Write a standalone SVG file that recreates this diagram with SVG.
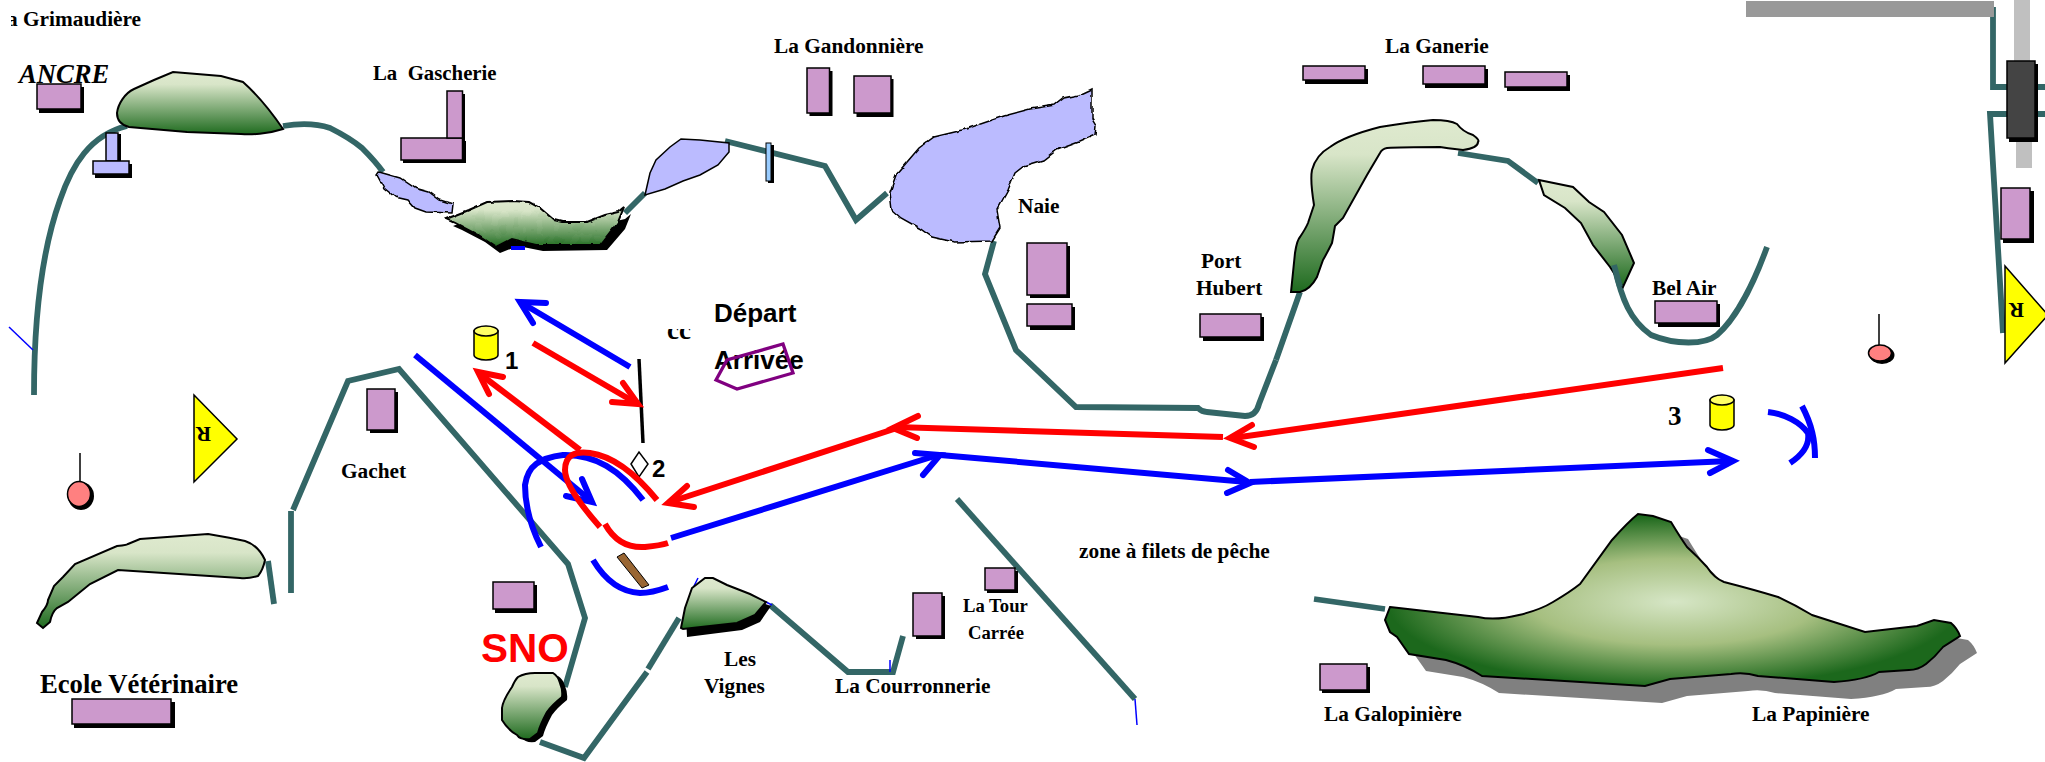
<svg xmlns="http://www.w3.org/2000/svg" width="2045" height="762" viewBox="0 0 2045 762">
<style>
text{font-family:"Liberation Serif",serif;font-weight:bold;fill:#000;font-size:21.33px}
.sans{font-family:"Liberation Sans",sans-serif}
.bld{fill:#cc99cc;stroke:#000;stroke-width:1.5}
.wat{fill:#bbbbff;stroke:#000;stroke-width:1.5}
.wavy{filter:url(#wv)}
.sh{fill:#000}
.hill{fill:url(#hg);stroke:#000;stroke-width:2}
.riv{fill:none;stroke:#336666;stroke-width:5.8}
.r{fill:none;stroke:#ff0000;stroke-width:6}
.b{fill:none;stroke:#0000ff;stroke-width:6}
.rh{fill:none;stroke:#ff0000;stroke-width:6;stroke-linecap:round;stroke-linejoin:miter}
.bh{fill:none;stroke:#0000ff;stroke-width:6;stroke-linecap:round;stroke-linejoin:miter}
.thin{fill:none;stroke:#0000ff;stroke-width:1.5}
.tri{fill:#ffff00;stroke:#000;stroke-width:1.5}
.cyl{fill:#ffff00;stroke:#000;stroke-width:1.5}
.pin{fill:#ff8080;stroke:#000;stroke-width:1.5}
</style>
<defs>
<linearGradient id="hg" x1="0" y1="0" x2="0" y2="1"><stop offset="0" stop-color="#dfeacf"/><stop offset="0.2" stop-color="#d8e5c8"/><stop offset="1" stop-color="#1f6b1f"/></linearGradient>
<radialGradient id="pg" cx="0.504" cy="0.51" r="0.5"><stop offset="0" stop-color="#d6e6c6"/><stop offset="0.5" stop-color="#a6bf80"/><stop offset="1" stop-color="#1c681c"/></radialGradient>
<clipPath id="c1"><rect x="11" y="0" width="200" height="40"/></clipPath>
<clipPath id="c2"><rect x="660" y="329" width="40" height="20"/></clipPath>
<filter id="wv" x="-5%" y="-5%" width="110%" height="110%"><feTurbulence type="fractalNoise" baseFrequency="0.09" numOctaves="2" seed="4" result="n"/><feDisplacementMap in="SourceGraphic" in2="n" scale="4" xChannelSelector="R" yChannelSelector="G"/></filter>
<path id="pap" d="M1390,607L1478,617Q1495,621 1519,615Q1540,610 1553,602Q1570,592 1580,584L1612,540Q1628,522 1638,514L1653,516L1671,522Q1680,537 1687,547Q1698,557 1707,567Q1714,578 1724,582Q1755,590 1778,597Q1795,605 1812,615L1865,632L1917,626L1934,620L1951,623Q1957,628 1960,636L1943,647Q1935,657 1926,664Q1918,670 1909,670L1879,672Q1865,680 1834,682L1758,676Q1745,672 1731,674L1670,679L1645,686L1482,676Q1465,665 1446,660L1409,654L1397,637L1390,632L1385,620Z"/>
<path id="h6" d="M502,708Q503,700 512,687Q515,680 518,677Q525,673 535,673L553,673Q558,676 560,683Q563,690 562,697Q552,705 547,712Q540,725 538,733L530,739Q520,740 517,735Q508,730 502,720Z"/>
</defs>

<g id="rivers">
<path class="riv" d="M34,395C34,320 42,250 60,200C72,165 90,135 127,126"/>
<path class="riv" d="M283,126C295,124 312,122 330,128C340,133 350,138 362,148C372,158 378,165 383,172"/>
<path class="riv" d="M625,213L645,193"/>
<path class="riv" d="M725,141L825,166L856,220L887,193"/>
<path class="riv" d="M994,241L985,274L1016,350L1076,407L1198,408Q1202,412 1207,412L1245,416Q1256,416 1259,404L1276,360"/>
<path class="riv" d="M1276,360L1300,292"/>
<path class="riv" d="M1458,153L1508,161L1538,183"/>
<path class="riv" d="M1614,265C1622,300 1630,320 1651,335C1675,345 1705,345 1717,335C1737,318 1755,280 1767,247"/>
<path class="riv" d="M1993,7V87H2007M1993,89V84"/>
<path class="riv" d="M2035,87H2045M2035,114H2045"/>
<path class="riv" d="M2007,114H1990L2003,333"/>
<path class="riv" d="M268,561L274,604"/>
<path class="riv" d="M291,511V593"/>
<path class="riv" d="M293,510L348,381L399,369L568,564L585,618L565,687"/>
<path class="riv" d="M540,742L584,758L647,672"/>
<path class="riv" d="M648,669L679,618"/>
<path class="riv" d="M770,605L848,672H893L903,636"/>
<path class="riv" d="M957,499L1135,699"/>
<path class="riv" d="M1314,599L1385,609"/>
<path class="thin" d="M9,327L33,350"/>
<path class="thin" d="M1135,699L1137,725"/>
<path class="thin" d="M890,660V672"/>
<path class="thin" d="M691,592L698,578M766,602L772,605"/>
</g>

<g id="ancre"><rect class="sh" x="39" y="87" width="45" height="26"/><rect class="bld" x="37" y="84" width="44" height="25"/><text x="19" y="83" font-style="italic" style="font-size:26.67px">ANCRE</text></g>
<g id="grimaudiere"><text x="7" y="26" clip-path="url(#c1)">a Grimaudière</text></g>
<g id="hill-1"><path class="hill" d="M129,127C121,125 117,120 117,113C118,104 125,93 134,89L154,80L173,72L221,76L243,82C252,90 266,104 283,129C268,134 250,135 241,134L187,132Z"/></g>
<g id="bridge"><rect class="sh" x="108" y="134" width="13" height="30"/><rect class="sh" x="95" y="164" width="37" height="14"/><rect class="wat" x="106" y="133" width="12" height="28"/><rect class="wat" x="93" y="161" width="36" height="13"/></g>
<g id="lake-1"><path class="wat wavy" d="M379,172L400,178L415,188L429,192L440,200L453,204L452,213L426,212L415,208L408,200L395,197L384,188L377,175Z"/></g>
<g id="gascherie"><rect class="sh" x="449" y="94" width="16" height="48"/><rect class="sh" x="403" y="141" width="63" height="22"/><rect class="bld" x="401" y="138" width="61.500" height="22"/><rect class="bld" x="447" y="91" width="15.500" height="47"/><text x="373" y="80" xml:space="preserve" style="font-size:20.800px">La  Gascherie</text></g>
<g id="hill-2"><path class="sh" d="M453,226L476,217L494,209L520,208L536,209L547,215L561,227L569,229L594,229L612,222L625,219L631,214L625,229L607,250L543,251L518,246L500,253L485,242L462,230Z"/><path fill="#0000ff" d="M511,246H525V250H511Z"/><path class="hill wavy" d="M446,219L469,210L487,202L513,201L529,202L540,208L554,220L562,222L587,222L605,215L618,212L624,207L618,222L600,245L536,245L511,239L496,247L478,235L455,223Z"/></g>
<g id="lake-2"><path class="wat" d="M645,195L650,173L656,160L670,147L681,139L700,140L729,143L729,152L718,165L700,175L683,181L665,189Z"/></g>
<g id="sluice"><rect class="sh" x="768" y="145" width="6" height="38"/><rect x="766" y="143" width="5" height="38" fill="#99ccff" stroke="#000"/></g>
<g id="gandonniere"><rect class="sh" x="809.500" y="71" width="23" height="45"/><rect class="bld" x="807" y="68" width="22.500" height="45"/><rect class="sh" x="856.500" y="79" width="37" height="38"/><rect class="bld" x="854" y="76" width="37" height="37"/><text x="774" y="53">La Gandonnière</text></g>
<g id="lake-naie"><path class="wat wavy" d="M1092,89L1092,118L1096,125L1095,135L1079,142L1057,150L1044,160L1024,166L1015,173L1008,190L997,210L1000,228L992,241L954,242L932,237L919,228L901,218L892,210L890,192L896,175L919,148L934,137L963,130L1004,116L1030,109L1055,105L1064,98L1079,95Z"/></g>
<g id="naie"><rect class="sh" x="1030" y="246" width="40" height="52"/><rect class="bld" x="1027" y="243" width="40" height="52"/><rect class="sh" x="1030" y="307" width="45" height="23"/><rect class="bld" x="1027" y="304" width="45" height="22"/><text x="1018" y="213">Naie</text></g>
<g id="port-hubert"><rect class="sh" x="1203" y="317" width="61" height="24"/><rect class="bld" x="1200" y="314" width="61" height="23"/><text x="1201" y="268">Port</text><text x="1196" y="295">Hubert</text></g>
<g id="ganerie"><rect class="sh" x="1305" y="69" width="63" height="15"/><rect class="bld" x="1303" y="66" width="62" height="14"/><rect class="sh" x="1425" y="69" width="63" height="19"/><rect class="bld" x="1423" y="66" width="62" height="18"/><rect class="sh" x="1507" y="75" width="63" height="16"/><rect class="bld" x="1505" y="72" width="62" height="15"/><text x="1385" y="53">La Ganerie</text></g>
<g id="hill-3"><path class="hill" d="M1291,292L1295,253Q1297,240 1300,237Q1306,228 1308,223L1314,205Q1310,180 1312,170Q1316,155 1330,147Q1345,136 1380,127Q1410,122 1433,120Q1450,120 1457,124Q1463,132 1473,135Q1480,140 1478,142Q1478,148 1463,150Q1445,148 1440,147Q1400,147 1387,148Q1382,149 1380,153L1367,175L1343,218L1335,226Q1333,238 1332,243Q1326,255 1323,260Q1318,274 1317,277Q1310,290 1300,292Z"/></g>
<g id="hill-4"><path class="hill" d="M1539,180L1573,187L1589,202L1604,212L1622,235L1634,263L1623,287L1610,267L1593,245L1581,223L1565,208L1544,195Z"/><path class="riv" d="M1614,265L1620,287"/></g>
<g id="bel-air"><rect class="sh" x="1658" y="304" width="62" height="23"/><rect class="bld" x="1655" y="301" width="62" height="22"/><text x="1652" y="295">Bel Air</text></g>
<g id="road"><rect x="1746" y="1" width="248" height="16" fill="#999999"/><rect x="2014" y="0" width="16" height="61" fill="#c0c0c0"/><rect x="2016" y="139" width="16" height="29" fill="#c0c0c0"/></g>
<g id="block"><rect class="sh" x="2009" y="64" width="29" height="78"/><rect x="2007" y="61" width="28" height="77" fill="#444444" stroke="#000" stroke-width="1.500"/></g>
<g id="bldg-right"><rect class="sh" x="2003" y="191" width="31" height="52"/><rect class="bld" x="2001" y="188" width="29" height="51"/></g>
<g id="beacon-right"><path class="tri" d="M2005,266L2048,315L2005,363Z"/><text transform="translate(2024,303) rotate(180)" style="font-size:21px">R</text></g>
<g id="beacon-left"><path class="tri" d="M194,395L237,439L194,482Z"/><text transform="translate(211,427) rotate(180)" style="font-size:21px">R</text></g>
<g id="pin-left"><path d="M80,453V482" stroke="#000" stroke-width="1.500"/><ellipse class="sh" cx="81" cy="496" rx="13" ry="14"/><ellipse class="pin" cx="79" cy="494" rx="11.500" ry="12.500"/></g>
<g id="pin-right"><path d="M1879,314V345" stroke="#000" stroke-width="1.500"/><ellipse class="sh" cx="1882" cy="355" rx="12.500" ry="9"/><ellipse class="pin" cx="1880" cy="353" rx="11.500" ry="8"/></g>
<g id="hill-5"><path class="hill" d="M37,623L42,612Q48,605 48,600L54,586L63,577L75,564L117,546Q128,545 128,544L140,539L208,534Q232,538 245,541Q258,545 265,560Q263,570 258,576Q248,579 240,578L118,570L90,584L68,602L57,608Q52,612 50,622L43,628Z"/></g>
<g id="gachet"><rect class="sh" x="370" y="392" width="28" height="41"/><rect class="bld" x="367" y="389" width="28" height="41"/><text x="341" y="478">Gachet</text></g>
<g id="ecole"><rect class="sh" x="74" y="702" width="101" height="26"/><rect class="bld" x="72" y="699" width="99" height="25"/><text x="40" y="693" style="font-size:26.670px">Ecole Vétérinaire</text></g>
<g id="bldg-sno"><rect class="sh" x="495" y="585" width="42" height="28"/><rect class="bld" x="493" y="582" width="41" height="27"/></g>
<g id="sno"><text class="sans" x="481" y="662" style="font-size:40.500px;fill:#ff0000">SNO</text></g>
<g id="hill-6"><use href="#h6" class="sh" transform="translate(5,3)"/><use href="#h6" class="hill"/></g>
<g id="les-vignes"><path class="sh" d="M687,637L686,615L696,595L709,585L717,585L731,592L754,600L771,606L760,622L742,630Z"/><path class="hill" d="M681,628L685,608L692,588L705,578L713,578L727,585L750,594L766,602L755,615L737,623L683,629Z"/><text x="724" y="666">Les</text><text x="704" y="693">Vignes</text></g>
<g id="courronnerie"><rect class="sh" x="916" y="596" width="29" height="43"/><rect class="bld" x="913" y="593" width="29" height="43"/><text x="835" y="693">La Courronnerie</text></g>
<g id="tour-carree"><rect class="sh" x="987" y="571" width="31" height="22"/><rect class="bld" x="985" y="568" width="30" height="22"/><text x="963" y="612" style="font-size:18.670px">La Tour</text><text x="968" y="639" style="font-size:18.670px">Carrée</text></g>
<g id="zone"><text x="1079" y="558">zone à filets de pêche</text></g>
<g id="galopiniere"><rect class="sh" x="1322" y="667" width="48" height="26"/><rect class="bld" x="1320" y="664" width="47" height="26"/><text x="1324" y="721">La Galopinière</text></g>
<g id="papiniere"><use href="#pap" fill="#808080" transform="translate(17,17)"/><use href="#pap" fill="url(#pg)" stroke="#000" stroke-width="2"/><text x="1752" y="721">La Papinière</text></g>

<g id="start"><text class="sans" x="714" y="322" style="font-size:26px">Départ</text><text class="sans" x="714" y="369" style="font-size:26px">Arrivée</text><path d="M716,380L727,360L783,344L793,373L737,389Z" fill="none" stroke="#800080" stroke-width="3.300"/></g>
<g id="cc"><text x="667" y="339" clip-path="url(#c2)" style="font-size:27px">cc</text></g>
<g id="mark-1"><path class="cyl" d="M474,331V355A12,5 0 0 0 498,355V331Z"/><ellipse class="cyl" cx="486" cy="331" rx="12" ry="5" style="fill:#ffff66"/><text class="sans" x="505" y="369" style="font-size:24px">1</text></g>
<g id="mark-2"><path d="M631,464L639,452L648,464L639,477Z" fill="#fff" stroke="#000" stroke-width="1.500"/><text class="sans" x="652" y="477" style="font-size:24px">2</text></g>
<g id="mark-3"><path class="cyl" d="M1710,400V425A12,5 0 0 0 1734,425V400Z"/><ellipse class="cyl" cx="1722" cy="400" rx="12" ry="5" style="fill:#ffff66"/><text x="1668" y="425" style="font-size:27px">3</text></g>
<g id="stake"><path d="M639,359L643,443" stroke="#000" stroke-width="3.500"/></g>
<g id="slip"><path d="M617,557L624,553L649,585L642,588Z" fill="#996633" stroke="#000"/></g>

<g id="connectors">
<path class="b" d="M630,367L520,302"/><path class="bh" d="M546,303L520,302L533,323"/>
<path class="r" d="M533,343L636,403"/><path class="rh" d="M623,383L638,404L612,402"/>
<path class="r" d="M580,450L480,374"/><path class="rh" d="M503,377L478,372L489,394"/>
<path class="b" d="M415,355L590,500"/><path class="bh" d="M582,479L592,502L566,496"/>
<path class="b" d="M541,547C530,525 525,505 525,485C528,465 540,458 563,455C595,454 620,470 643,500"/>
<path class="b" d="M593,560C605,580 620,592 640,593C650,593 660,590 668,587"/>
<path class="r" d="M600,527C585,510 565,485 565,470C565,455 575,451 590,453C612,456 635,473 657,500"/>
<path class="r" d="M605,524C615,542 630,548 645,547C655,546 662,545 668,543"/>
<path class="r" d="M670,502L897,428"/><path class="rh" d="M687,486L668,503L694,507"/>
<path class="r" d="M1223,437L895,427"/><path class="rh" d="M918,416L893,428L917,438"/>
<path class="r" d="M1723,368L1233,438"/><path class="rh" d="M1252,425L1230,438L1254,447"/>
<path class="b" d="M671,538L938,455"/><path class="bh" d="M915,453L940,455L923,475"/>
<path class="b" d="M940,455L1247,482"/><path class="bh" d="M1228,470L1250,483L1227,493"/>
<path class="b" d="M1250,482L1730,461"/><path class="bh" d="M1708,450L1733,461L1710,473"/>
<path class="b" d="M1768,412C1785,414 1800,422 1808,433C1810,445 1802,455 1790,463"/>
<path class="b" d="M1802,406C1812,425 1815,440 1815,458"/>
</g>
</svg>
